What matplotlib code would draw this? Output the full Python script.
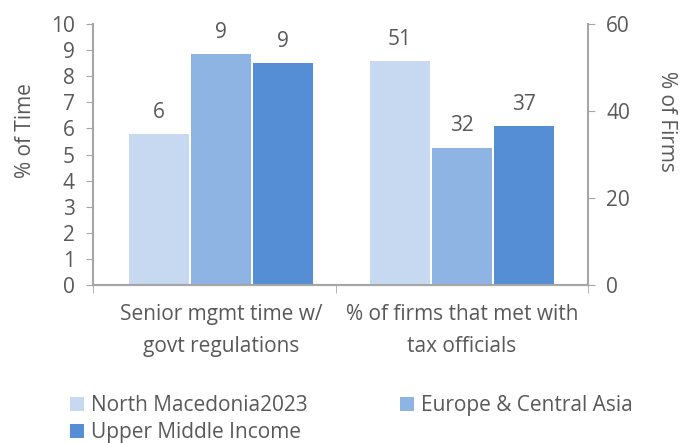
import matplotlib.pyplot as plt
from matplotlib.patches import Patch
import numpy as np

plt.rcParams['font.family'] = ['Open Sans', 'DejaVu Sans']

# 数据
categories = ['Senior mgmt time w/\ngovt regulations', '% of firms that met with\ntax officials']
series = ['North Macedonia2023', 'Europe & Central Asia', 'Upper Middle Income']
time_values = [5.8, 8.85, 8.5]        # % of Time (左轴)
firms_values = [51.4, 31.6, 36.6]     # % of Firms (右轴)
time_labels = ['6', '9', '9']
firms_labels = ['51', '32', '37']
colors = ['#C6D9F0', '#8EB4E3', '#558ED5']

text_color = '#595959'
axis_color = '#A6A6A6'
fs = 15

fig = plt.figure(figsize=(6.81, 4.43), dpi=100)
ax = fig.add_axes([0.1366, 0.3567, 0.7269, 0.589])
ax2 = ax.twinx()

width = 0.249
offsets = [-0.257, 0.0, 0.257]

# 左组柱子
for i in range(3):
    b = ax.bar(0 + offsets[i], time_values[i], width, color=colors[i])
    ax.bar_label(b, labels=[time_labels[i]], padding=8, color=text_color, fontsize=fs)

# 右组柱子
for i in range(3):
    b = ax2.bar(1 + offsets[i], firms_values[i], width, color=colors[i])
    ax2.bar_label(b, labels=[firms_labels[i]], padding=8, color=text_color, fontsize=fs)

ax.set_xlim(-0.531, 1.523)
ax.set_ylim(0, 10)
ax2.set_ylim(0, 60)
ax.set_yticks(range(0, 11))
ax2.set_yticks([0, 20, 40, 60])

ax.set_xticks([0, 1])
ax.set_xticklabels(categories, fontsize=fs, color=text_color, linespacing=1.65)
ax.set_xticks([-0.531, 0.477, 1.523], minor=True)
ax.tick_params(axis='x', which='major', length=0, pad=14)
ax.tick_params(axis='x', which='minor', length=5.5, color=axis_color, direction='out')

ax.tick_params(axis='y', labelsize=fs, labelcolor=text_color, color=axis_color, length=5, pad=8)
ax2.tick_params(axis='y', labelsize=fs, labelcolor=text_color, color=axis_color, length=5, pad=8)

ax.set_ylabel('% of Time', fontsize=fs, color=text_color)
ax.yaxis.set_label_coords(-0.115, 0.59)
ax2.set_ylabel('% of Firms', fontsize=fs, color=text_color, rotation=270)
ax2.yaxis.set_label_coords(1.18, 0.625)

for a in (ax, ax2):
    a.spines['top'].set_visible(False)
    for s in ('left', 'right', 'bottom'):
        a.spines[s].set_color(axis_color)
        a.spines[s].set_linewidth(1.5)
ax.spines['right'].set_visible(False)
ax2.spines['left'].set_visible(False)

# 图例 (按行排列: 调整顺序)
order = [0, 2, 1]
handles = [Patch(facecolor=colors[i], edgecolor='none') for i in order]
labels = [series[i] for i in order]
fig.legend(handles, labels, loc='upper left', bbox_to_anchor=(0.1028, 0.108),
           ncol=2, frameon=False, fontsize=fs, labelcolor=text_color,
           handlelength=0.65, handleheight=0.65, handletextpad=0.35,
           columnspacing=4.45, labelspacing=0.3, borderaxespad=0, borderpad=0)

fig.savefig('out.png', dpi=100)
plt.close(fig)
